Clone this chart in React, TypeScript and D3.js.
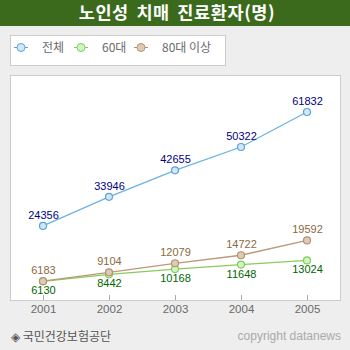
import React from "react";
import * as d3 from "d3";

const years = ["2001", "2002", "2003", "2004", "2005"];
const totalValues = [24356, 33946, 42655, 50322, 61832];
const age60Values = [6130, 8442, 10168, 11648, 13024];
const age80Values = [6183, 9104, 12079, 14722, 19592];
const seriesNames = ["전체", "60대", "80대 이상"];

const W = 350, H = 350;
const plot = { left: 10, right: 340, top: 75, bottom: 300 };

export default function App() {
  const x = d3.scaleBand<string>().domain(years).range([plot.left, plot.right]);
  const cx = (d: string) => (x(d) as number) + x.bandwidth() / 2;
  const y = d3.scaleLinear().domain([0, 74000]).range([plot.bottom, plot.top]);
  const line = d3.line<number>().x((_, i) => cx(years[i])).y((v) => y(v));

  const series = [
    { name: seriesNames[1], values: age60Values, line: "#8acb5c", fill: "#cdf8bd", stroke: "#86c863", label: "#006600", below: true },
    { name: seriesNames[2], values: age80Values, line: "#b8997a", fill: "#ddcbb7", stroke: "#b3926f", label: "#8a6a40", below: false },
    { name: seriesNames[0], values: totalValues, line: "#6cb2e2", fill: "#d3e6f5", stroke: "#5aa4d8", label: "#000080", below: false },
  ];
  const legendOrder = [series[2], series[0], series[1]];
  const legendX = [21, 81, 141];

  return (
    <svg width={W} height={H} style={{ position: "absolute", left: 0, top: 0 }}>
      <rect x={0} y={0} width={W} height={H} fill="#eeeeee" />
      <rect x={0} y={0} width={W} height={26} fill="#3b6a1c" />
      <text x={177} y={19} textAnchor="middle" fill="#ffffff" fontFamily="'Noto Sans CJK KR'" fontWeight="bold" fontSize={17.5} letterSpacing={0.6} wordSpacing={3}>
        노인성 치매 진료환자(명)
      </text>

      <rect x={10.5} y={35.5} width={215} height={30} fill="#ffffff" stroke="#cccccc" />
      {legendOrder.map((s, i) => (
        <g key={s.name}>
          <line x1={legendX[i] - 7} x2={legendX[i] + 7} y1={47.5} y2={47.5} stroke={s.stroke} strokeWidth={1} />
          <circle cx={legendX[i]} cy={47.5} r={4} fill={s.fill} stroke={s.stroke} />
          <text x={legendX[i] + 21} y={52} fill="#6a6a6a" fontFamily="'Noto Sans CJK KR'" fontSize={12}>
            {s.name}
          </text>
        </g>
      ))}

      <rect x={plot.left + 0.5} y={plot.top + 0.5} width={plot.right - plot.left} height={plot.bottom - plot.top} fill="#ffffff" stroke="#cccccc" />
      {years.map((yr) => (
        <g key={yr}>
          <line x1={cx(yr) + 0.5} x2={cx(yr) + 0.5} y1={plot.bottom - 5} y2={plot.bottom} stroke="#aaaaaa" />
          <text x={cx(yr) + 0.5} y={313} textAnchor="middle" fill="#6a6a6a" fontFamily="'Liberation Sans'" fontSize={11.5}>
            {yr}
          </text>
        </g>
      ))}

      {series.map((s) => (
        <g key={s.name}>
          <path d={line(s.values) || ""} fill="none" stroke={s.line} strokeWidth={1.3} />
          {s.values.map((v, i) => (
            <circle key={i} cx={cx(years[i])} cy={y(v)} r={3.5} fill={s.fill} stroke={s.stroke} strokeWidth={1.2} />
          ))}
        </g>
      ))}
      {series.map((s) => (
        <g key={s.name + "-labels"}>
          {s.values.map((v, i) => (
            <text key={i} x={cx(years[i]) + 0.5} y={y(v) + (s.below ? 13 : -7)} textAnchor="middle" fill={s.label} fontFamily="'Liberation Sans'" fontSize={11}>
              {v}
            </text>
          ))}
        </g>
      ))}

      <text x={11} y={341} fill="#555555" fontFamily="'Noto Sans CJK KR'" fontSize={12}>
        ◈ 국민건강보험공단
      </text>
      <text x={341} y={340} textAnchor="end" fill="#aaaaaa" fontFamily="'Liberation Sans'" fontSize={12}>
        copyright datanews
      </text>
    </svg>
  );
}
